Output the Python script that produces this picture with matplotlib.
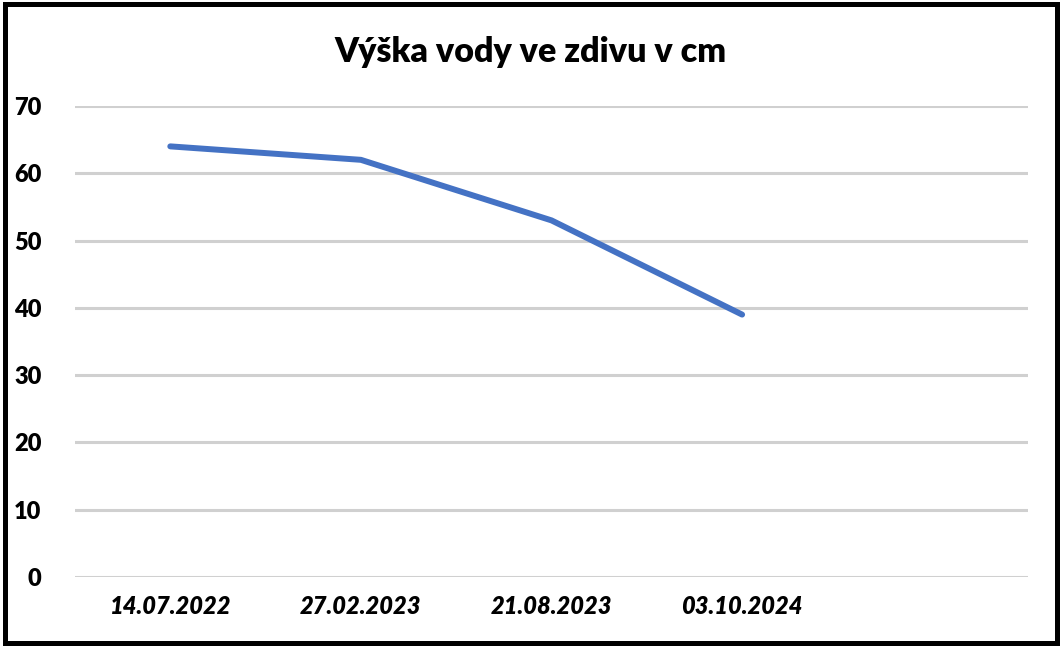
import matplotlib
matplotlib.use("Agg")
import matplotlib.pyplot as plt
from matplotlib.patches import Rectangle

categories = ["14.07.2022", "27.02.2023", "21.08.2023", "03.10.2024", ""]
values = [64, 62, 53, 39]
yticks = [0, 10, 20, 30, 40, 50, 60, 70]
title = "Výška vody ve zdivu v cm"

plt.rcParams['font.family'] = ['Lato', 'DejaVu Sans']

fig = plt.figure(figsize=(10.63, 6.47), dpi=100)
ax = fig.add_axes([75/1063, 1-577/647, (1028-75)/1063, (577-106)/647])

x = list(range(len(categories)))
ax.plot(x[:len(values)], values, color="#4472C4", linewidth=4.3, solid_capstyle='round')

ax.set_xlim(-0.5, len(categories) - 0.5)
ax.set_ylim(0, 70)
ax.set_yticks(yticks)
ax.set_yticklabels([str(t) for t in yticks], fontsize=17, fontweight='heavy')
ax.set_xticks(x)
ax.set_xticklabels(categories, fontsize=17, fontweight='heavy', style='italic')
ax.tick_params(axis='both', length=0)
ax.tick_params(axis='y', pad=24)
ax.tick_params(axis='x', pad=13)
ax.grid(axis='y', color='#d0d0d0', linewidth=2.2)
ax.set_axisbelow(True)
for s in ax.spines.values():
    s.set_visible(False)

fig.text(531/1063, 1-52/647, title, ha='center', va='center', fontsize=24.5, fontweight='heavy')

fig.patches.append(Rectangle((5/1063, 4/647), 1052/1063, 639/647, transform=fig.transFigure,
                             fill=False, edgecolor='black', linewidth=3.6))

fig.savefig("out.png", dpi=100)
